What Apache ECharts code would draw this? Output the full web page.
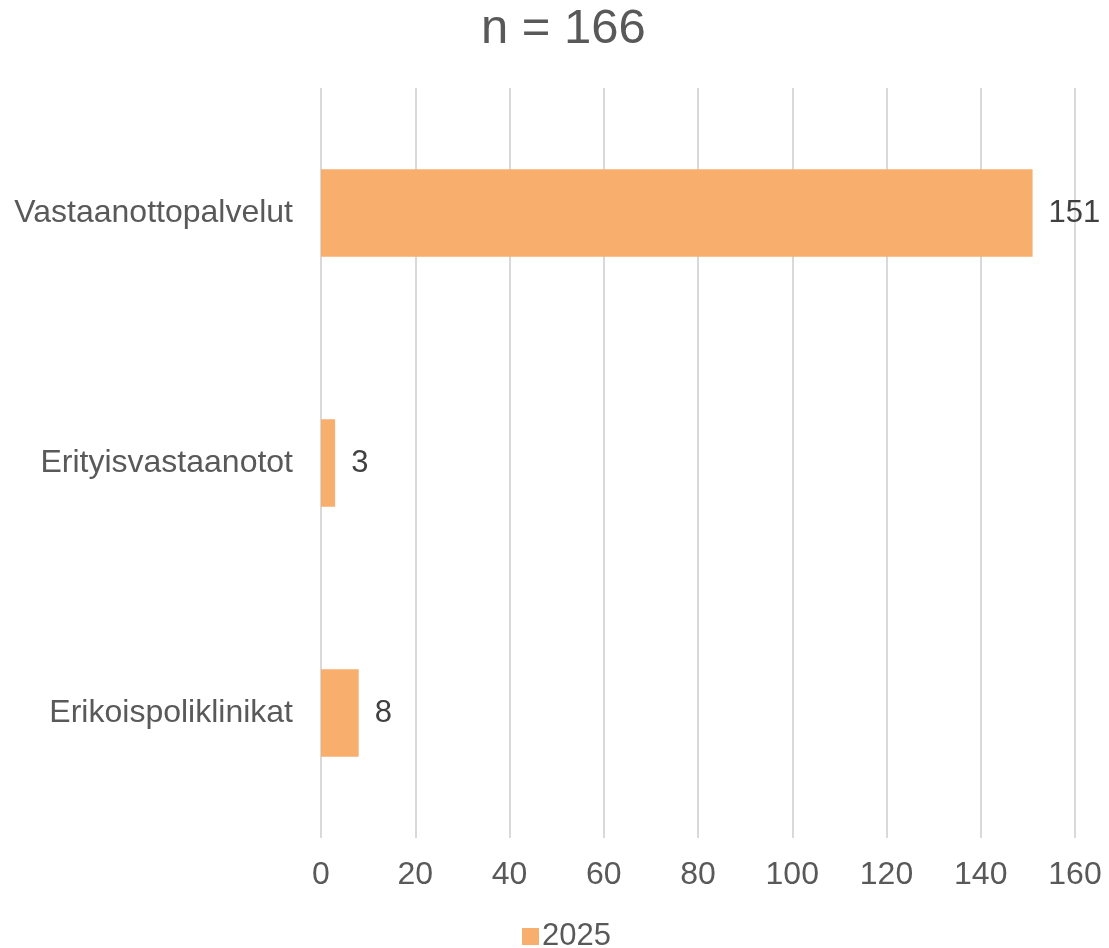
<!DOCTYPE html>
<html>
<head>
<meta charset="utf-8">
<script src="https://cdn.jsdelivr.net/npm/echarts@6/dist/echarts.min.js"></script>
<style>html,body{margin:0;padding:0;background:#fff}#c{width:1109px;height:948px}</style>
</head>
<body>
<div id="c"></div>
<script>
const categories = ["Vastaanottopalvelut", "Erityisvastaanotot", "Erikoispoliklinikat"];
const values2025 = [151, 3, 8];
const seriesName = "2025";
const titleText = "n = 166";

const chart = echarts.init(document.getElementById('c'));
chart.setOption({
  animation: false,
  backgroundColor: '#ffffff',
  title: {
    text: titleText,
    left: 476,
    top: 0,
    textStyle: { fontFamily: 'Liberation Sans, Arial, sans-serif', fontSize: 49, fontWeight: 'normal', color: '#595959' }
  },
  legend: {
    data: [seriesName],
    left: 517,
    top: 916,
    itemWidth: 17,
    itemHeight: 17,
    itemGap: 10,
    icon: 'rect',
    textStyle: { fontFamily: 'Liberation Sans, Arial, sans-serif', fontSize: 31, color: '#595959', padding: [0,0,0,-2] }
  },
  grid: { left: 321, right: 34, top: 88, bottom: 110, containLabel: false },
  xAxis: {
    type: 'value',
    min: 0, max: 160, interval: 20,
    axisLine: { show: false },
    axisTick: { show: false },
    splitLine: { show: true, lineStyle: { color: '#d9d9d9', width: 2 } },
    axisLabel: { fontFamily: 'Liberation Sans, Arial, sans-serif', fontSize: 32, color: '#595959', margin: 21 }
  },
  yAxis: {
    type: 'category',
    data: categories,
    inverse: true,
    axisLine: { show: false },
    axisTick: { show: false },
    axisLabel: { fontFamily: 'Liberation Sans, Arial, sans-serif', fontSize: 32, color: '#595959', margin: 28 }
  },
  series: [{
    name: seriesName,
    type: 'bar',
    data: values2025,
    barWidth: '35%',
    itemStyle: { color: '#F8AE6C' },
    label: {
      show: true,
      position: 'right',
      distance: 16,
      fontFamily: 'Liberation Sans, Arial, sans-serif',
      fontSize: 31,
      color: '#404040'
    }
  }]
});
</script>
</body>
</html>
